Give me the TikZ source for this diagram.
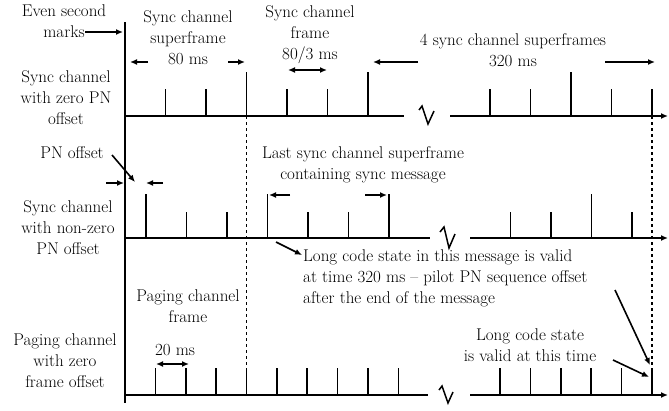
\documentclass[tikz,border=0pt]{standalone}
\usetikzlibrary{arrows.meta}

\tikzset{
  chanline/.style={line width=1.7pt},
  tickline/.style={line width=1.7pt},
  dashline/.style={line width=1.7pt, dash pattern=on 3pt off 3pt},
  breakmark/.style={line width=1.5pt, line join=miter},
  lbl/.style={font=\fontsize{17}{21}\selectfont, align=center, inner sep=0pt},
  arr/.style={line width=1.6pt, -{Latex[length=7pt,width=6pt]}},
  dblarr/.style={line width=1.6pt, {Latex[length=7pt,width=6pt]}-{Latex[length=7pt,width=6pt]}}
}

\begin{document}
\begin{tikzpicture}[x=1pt,y=-1pt]
	\useasboundingbox (0,0) rectangle (669,410);

	% time axis
	\draw[chanline] (125,22) -- (125,403);

	% sync channel, zero PN offset
	\draw[chanline] (125,116) -- (404,116);
	\draw[chanline,-{Latex[length=7pt,width=6pt]}] (450,116) -- (668,116);
	\draw[tickline] (165.5,116) -- ++(0,-27) (206,116) -- ++(0,-27) (246.5,116) -- ++(0,-44)
		(287,116) -- ++(0,-27) (327.5,116) -- ++(0,-27) (368,116) -- ++(0,-44);
	\draw[tickline] (490,116) -- ++(0,-27) (530.5,116) -- ++(0,-27) (571,116) -- ++(0,-44)
		(611.5,116) -- ++(0,-27) (652,116) -- ++(0,-27);
	\draw[breakmark] (419,110) -- (422,106) -- (428,124) -- (434,111);

	% sync channel, non-zero PN offset
	\draw[chanline] (125,238) -- (430,238);
	\draw[chanline,-{Latex[length=7pt,width=6pt]}] (470,238) -- (668,238);
	\draw[tickline] (146,238) -- ++(0,-44) (186.5,238) -- ++(0,-26) (227,238) -- ++(0,-26)
		(267.5,238) -- ++(0,-44) (308,238) -- ++(0,-26) (348.5,238) -- ++(0,-26) (389,238) -- ++(0,-44);
	\draw[tickline] (510.5,238) -- ++(0,-26) (551,238) -- ++(0,-26) (591.5,238) -- ++(0,-44)
		(632,238) -- ++(0,-26);
	\draw[breakmark] (440,232) -- (444,227) -- (449,248) -- (455,234);

	% paging channel, zero frame offset
	\draw[chanline] (125,395) -- (428,395);
	\draw[chanline,-{Latex[length=7pt,width=6pt]}] (470,395) -- (668,395);
	\draw[tickline] (155.4,395) -- ++(0,-27) (185.8,395) -- ++(0,-27) (216.1,395) -- ++(0,-27)
		(246.5,395) -- ++(0,-27) (276.9,395) -- ++(0,-27) (307.3,395) -- ++(0,-27)
		(337.6,395) -- ++(0,-27) (368,395) -- ++(0,-27) (398.4,395) -- ++(0,-27);
	\draw[tickline] (500.1,395) -- ++(0,-27) (530.5,395) -- ++(0,-27) (560.9,395) -- ++(0,-27)
		(591.3,395) -- ++(0,-27) (621.6,395) -- ++(0,-27) (652,395) -- ++(0,-27);
	\draw[breakmark] (439,390) -- (442,386) -- (448,403) -- (453,392);

	% superframe boundaries
	\draw[dashline] (246.5,116) -- (246.5,368);
	\draw[dashline] (652,116) -- (652,368);

	% labels
	\node[lbl] (evenlbl) at (64,21) {Even second\\marks};
	\node[lbl] (sflbl) at (188,38) {Sync channel\\superframe\\80 ms};
	\node[lbl] (framelbl) at (310,35) {Sync channel\\frame\\80/3 ms};
	\node[lbl] (fourlbl) at (513,50) {4 sync channel superframes\\320 ms};
	\node[lbl] (zerolbl) at (66,98) {Sync channel\\with zero PN\\offset};
	\node[lbl] (pnlbl) at (72,153) {PN offset};
	\node[lbl] (lastlbl) at (363,165) {Last sync channel superframe\\containing sync message};
	\node[lbl] (nonzerolbl) at (68,228) {Sync channel\\with non-zero\\PN offset};
	\node[lbl,align=left,anchor=west] (msglbl) at (303,278) {Long code state in this message is valid\\at time 320 ms -- pilot PN sequence offset\\after the end of the message};
	\node[lbl] (paglbl) at (188,306) {Paging channel\\frame};
	\node[lbl] (twentylbl) at (175,350) {20 ms};
	\node[lbl] (paging) at (65,361) {Paging channel\\with zero\\frame offset};
	\node[lbl] (validlbl) at (530,345) {Long code state\\is valid at this time};

	% arrow end points
	\coordinate (ev1) at (85,32);    \coordinate (ev2) at (123,32);
	\coordinate (sf1) at (148,62);   \coordinate (sf2) at (130,62);
	\coordinate (sf3) at (228,62);   \coordinate (sf4) at (245,62);
	\coordinate (fr1) at (288,70);   \coordinate (fr2) at (327,70);
	\coordinate (fo1) at (418,62);   \coordinate (fo2) at (373,62);
	\coordinate (fo3) at (605,62);   \coordinate (fo4) at (655,62);
	\coordinate (pn1) at (112,155);  \coordinate (pn2) at (135,182);
	\coordinate (pn3) at (106,183);  \coordinate (pn4) at (124,183);
	\coordinate (pn5) at (163,183);  \coordinate (pn6) at (146,183);
	\coordinate (ls1) at (290,195);  \coordinate (ls2) at (269,195);
	\coordinate (ls3) at (365,195);  \coordinate (ls4) at (387,195);
	\coordinate (mg1) at (276,242);  \coordinate (mg2) at (302,255);
	\coordinate (mg3) at (615,290);  \coordinate (mg4) at (650,365);
	\coordinate (tw1) at (156,364);  \coordinate (tw2) at (189,364);
	\coordinate (va1) at (613,360);  \coordinate (va2) at (649,377);

	\draw[arr] (ev1) -- (ev2);
	\draw[arr] (sf1) -- (sf2);
	\draw[arr] (sf3) -- (sf4);
	\draw[dblarr] (fr1) -- (fr2);
	\draw[arr] (fo1) -- (fo2);
	\draw[arr] (fo3) -- (fo4);
	\draw[arr] (pn1) -- (pn2);
	\draw[arr] (pn3) -- (pn4);
	\draw[arr] (pn5) -- (pn6);
	\draw[arr] (ls1) -- (ls2);
	\draw[arr] (ls3) -- (ls4);
	\draw[arr] (mg1) -- (mg2);
	\draw[arr] (mg3) -- (mg4);
	\draw[dblarr] (tw1) -- (tw2);
	\draw[arr] (va1) -- (va2);

\end{tikzpicture}
\end{document}
